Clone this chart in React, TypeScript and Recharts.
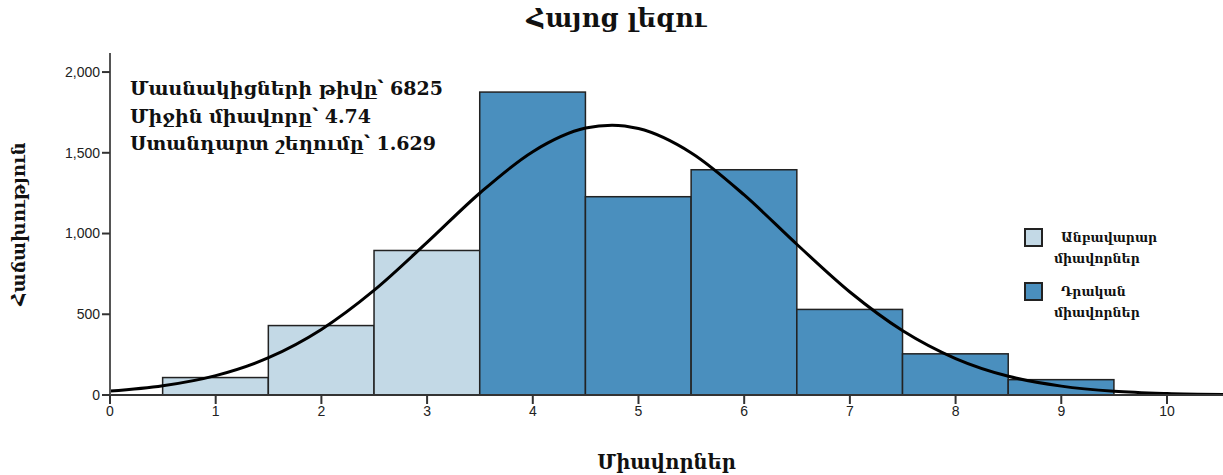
import { ComposedChart, Bar, Cell, Line, XAxis, YAxis } from "recharts"

const scores = [1, 2, 3, 4, 5, 6, 7, 8, 9]
const counts = [108, 430, 895, 1876, 1228, 1395, 530, 255, 95]
const groups = ["fail", "fail", "fail", "pass", "pass", "pass", "pass", "pass", "pass"]

const curveX = [0, 0.5, 1, 1.5, 2, 2.5, 3, 3.5, 4, 4.5, 4.75, 5, 5.5, 6, 6.5, 7, 7.5, 8, 8.5, 9, 9.5, 10, 10.53]
const curveY = [24, 57, 120, 231, 406, 649, 945, 1251, 1507, 1653, 1671, 1650, 1499, 1239, 932, 638, 398, 226, 116, 55, 23, 9, 3]

const xTicks = [0, 1, 2, 3, 4, 5, 6, 7, 8, 9, 10]
const yTicks = [0, 500, 1000, 1500, 2000]

const statLines = ["Մասնակիցների թիվը՝ 6825", "Միջին միավորը՝ 4.74", "Ստանդարտ շեղումը՝ 1.629"]
const legendItems = [
  { key: "fail", lines: ["Անբավարար", "միավորներ"] },
  { key: "pass", lines: ["Դրական", "միավորներ"] },
]

const colors: Record<string, string> = { fail: "#c3d9e6", pass: "#4a8fbe" }
const armFont = "'DejaVu Serif', serif"

const barData = scores.map((s, i) => ({ score: s, count: counts[i], group: groups[i] }))
const curveData = curveX.map((x, i) => ({ score: x, density: curveY[i] }))

// one score unit in px: plot width 1113 / domain 10.53
const binWidth = 1113 / 10.53

// histogram bin: keep recharts' centre and height, widen to a full unit
const HistBar = (props: any) => {
  const { x, y, width, height, fill } = props
  if (height == null || height <= 0) return null
  const cx = x + width / 2
  return (
    <rect
      x={cx - binWidth / 2}
      y={y}
      width={binWidth}
      height={height}
      fill={fill}
      stroke="#222"
      strokeWidth={1.5}
    />
  )
}

export default function App() {
  return (
    <div style={{ position: "absolute", left: 0, top: 0, width: 1223, height: 475, background: "#fff" }}>
      <div
        style={{
          position: "absolute",
          top: 3,
          left: 0,
          width: 1233,
          textAlign: "center",
          fontFamily: armFont,
          fontWeight: "bold",
          fontSize: 25.5,
          color: "#111",
        }}
      >
        Հայոց լեզու
      </div>
      <ComposedChart
        width={1223}
        height={475}
        data={barData}
        margin={{ top: 53, right: 0, left: 0, bottom: 0 }}
        barCategoryGap={0}
        barGap={0}
      >
        <XAxis
          xAxisId="top"
          orientation="top"
          type="number"
          dataKey="score"
          domain={[0, 10.53]}
          tick={false}
          tickLine={false}
          height={0}
          axisLine={{ stroke: "#999", strokeWidth: 2 }}
        />
        <XAxis
          type="number"
          dataKey="score"
          domain={[0, 10.53]}
          ticks={xTicks}
          allowDataOverflow
          height={80}
          tickSize={9}
          tickLine={{ stroke: "#333", strokeWidth: 2 }}
          axisLine={{ stroke: "#333", strokeWidth: 2 }}
          tick={{ fontFamily: "'Liberation Sans', Arial, sans-serif", fontSize: 14, fill: "#222" }}
          label={{
            value: "Միավորներ",
            position: "insideBottom",
            offset: 6,
            style: { fontFamily: armFont, fontWeight: "bold", fontSize: 19.5, fill: "#111" },
          }}
        />
        <YAxis
          type="number"
          domain={[0, 2118]}
          ticks={yTicks}
          allowDataOverflow
          width={110}
          tickSize={8}
          tickLine={{ stroke: "#333", strokeWidth: 2 }}
          axisLine={{ stroke: "#555", strokeWidth: 2 }}
          tickFormatter={(v: number) => v.toLocaleString("en-US")}
          tick={{ fontFamily: "'Liberation Sans', Arial, sans-serif", fontSize: 14, fill: "#222" }}
          label={{
            value: "Հաճախություն",
            angle: -90,
            position: "insideLeft",
            offset: 19,
            style: { fontFamily: armFont, fontWeight: "bold", fontSize: 18, fill: "#111", textAnchor: "middle" },
          }}
        />
        <Bar dataKey="count" shape={<HistBar />} isAnimationActive={false}>
          {barData.map((d, i) => (
            <Cell key={i} fill={colors[d.group]} />
          ))}
        </Bar>
        <Line
          data={curveData}
          dataKey="density"
          type="monotone"
          stroke="#000"
          strokeWidth={3}
          dot={false}
          activeDot={false}
          isAnimationActive={false}
        />
      </ComposedChart>
      <div
        style={{
          position: "absolute",
          left: 130,
          top: 75,
          fontFamily: armFont,
          fontWeight: "bold",
          fontSize: 19,
          lineHeight: "27.5px",
          color: "#111",
        }}
      >
        {statLines.map((t) => (
          <div key={t}>{t}</div>
        ))}
      </div>
      <div style={{ position: "absolute", left: 1024, top: 227, fontFamily: armFont, fontWeight: "bold", fontSize: 12.5, color: "#111" }}>
        {legendItems.map((it) => (
          <div key={it.key} style={{ display: "flex", alignItems: "flex-start", marginBottom: 12 }}>
            <div
              style={{
                width: 19,
                height: 19,
                background: colors[it.key],
                border: "2px solid #222",
                marginTop: 1,
                marginRight: 13,
                boxSizing: "border-box",
              }}
            />
            <div style={{ lineHeight: "21px" }}>
              <div style={{ paddingLeft: 5 }}>{it.lines[0]}</div>
              <div style={{ marginLeft: -2 }}>{it.lines[1]}</div>
            </div>
          </div>
        ))}
      </div>
    </div>
  )
}
